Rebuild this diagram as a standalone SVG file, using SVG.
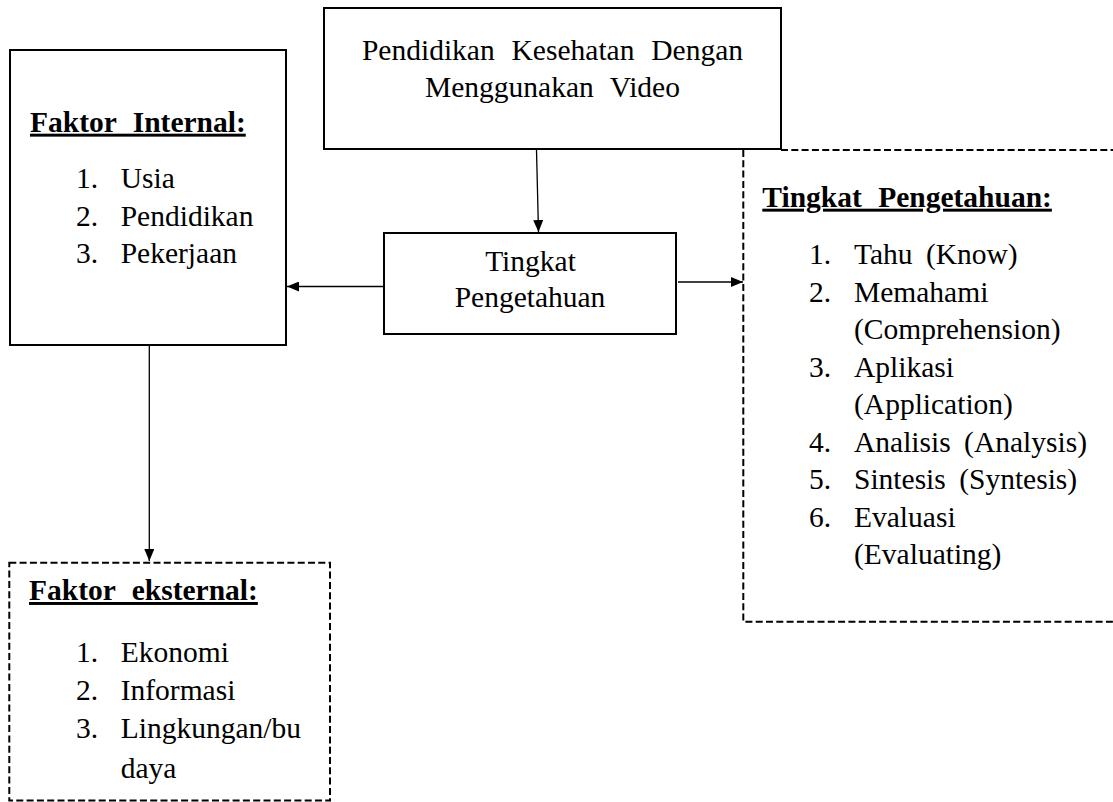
<svg xmlns="http://www.w3.org/2000/svg" width="1113" height="802" viewBox="0 0 1113 802">
<defs>
<marker id="arr" viewBox="0 0 12 10" refX="12" refY="5" markerWidth="12" markerHeight="10" markerUnits="userSpaceOnUse" orient="auto">
<path d="M0,0 L12,5 L0,10 z" fill="#000"/>
</marker>
<style>
.solid{fill:#fff;stroke:#000;stroke-width:2}
.dash{fill:none;stroke:#000;stroke-width:2;stroke-dasharray:7 3.3}
.t{font-size:29.5px;fill:#000}
.h{font-size:29.5px;font-weight:bold;fill:#000;text-decoration:underline}
.c{text-anchor:middle}
.ln{stroke:#000;stroke-width:1.3;fill:none}
</style>
</defs>
<rect width="1113" height="802" fill="#fff"/>
<g id="connectors">
<line class="ln" x1="536.5" y1="150" x2="538.5" y2="232" marker-end="url(#arr)"/>
<line class="ln" x1="384" y1="286.5" x2="287" y2="286.5" marker-end="url(#arr)"/>
<line class="ln" x1="678" y1="282" x2="743" y2="282" marker-end="url(#arr)"/>
<line class="ln" x1="149.3" y1="345" x2="149.3" y2="561" marker-end="url(#arr)"/>
</g>
<g font-family="'Liberation Serif', 'Times New Roman', Times, 'DejaVu Serif', serif">
<g id="node-pendidikan">
<rect class="solid" x="324" y="8" width="457" height="141"/>
<text class="t c" x="552.5" y="60" word-spacing="9.5">Pendidikan Kesehatan Dengan</text>
<text class="t c" x="552.5" y="97" word-spacing="9">Menggunakan Video</text>
</g>
<g id="node-tingkat">
<rect class="solid" x="384" y="233" width="292" height="101"/>
<text class="t c" x="530.5" y="271">Tingkat</text>
<text class="t c" x="530" y="307">Pengetahuan</text>
</g>
<g id="node-internal">
<rect class="solid" x="10" y="50" width="276" height="295"/>
<text class="h" x="30" y="131.7" word-spacing="9">Faktor Internal:</text>
<text class="t" x="76" y="188.3">1.</text><text class="t" x="120.7" y="188.3">Usia</text>
<text class="t" x="76" y="226">2.</text><text class="t" x="120.7" y="226">Pendidikan</text>
<text class="t" x="76" y="263.3">3.</text><text class="t" x="120.7" y="263.3">Pekerjaan</text>
</g>
<g id="node-tingkat-list">
<path class="dash" d="M781,150 L1114,150 M743.3,150 L743.3,621.7 L1114,621.7"/>
<text class="h" x="762.3" y="206.7" word-spacing="9">Tingkat Pengetahuan:</text>
<text class="t" x="809" y="264">1.</text><text class="t" x="854" y="264" word-spacing="6">Tahu (Know)</text>
<text class="t" x="809" y="301.5">2.</text><text class="t" x="854" y="301.5">Memahami</text>
<text class="t" x="854" y="339">(Comprehension)</text>
<text class="t" x="809" y="376.5">3.</text><text class="t" x="854" y="376.5">Aplikasi</text>
<text class="t" x="854" y="414">(Application)</text>
<text class="t" x="809" y="451.5">4.</text><text class="t" x="854" y="451.5" word-spacing="6">Analisis (Analysis)</text>
<text class="t" x="809" y="489">5.</text><text class="t" x="854" y="489" word-spacing="6">Sintesis (Syntesis)</text>
<text class="t" x="809" y="526.5">6.</text><text class="t" x="854" y="526.5">Evaluasi</text>
<text class="t" x="854" y="564">(Evaluating)</text>
</g>
<g id="node-eksternal">
<rect class="dash" x="9.3" y="562.7" width="320.7" height="237.8"/>
<text class="h" x="29" y="600" word-spacing="9">Faktor eksternal:</text>
<text class="t" x="76" y="661.7">1.</text><text class="t" x="120.7" y="661.7">Ekonomi</text>
<text class="t" x="76" y="700">2.</text><text class="t" x="120.7" y="700">Informasi</text>
<text class="t" x="76" y="738.3">3.</text><text class="t" x="120.7" y="738.3">Lingkungan/bu</text>
<text class="t" x="120.7" y="778">daya</text>
</g>
</g>
</svg>
